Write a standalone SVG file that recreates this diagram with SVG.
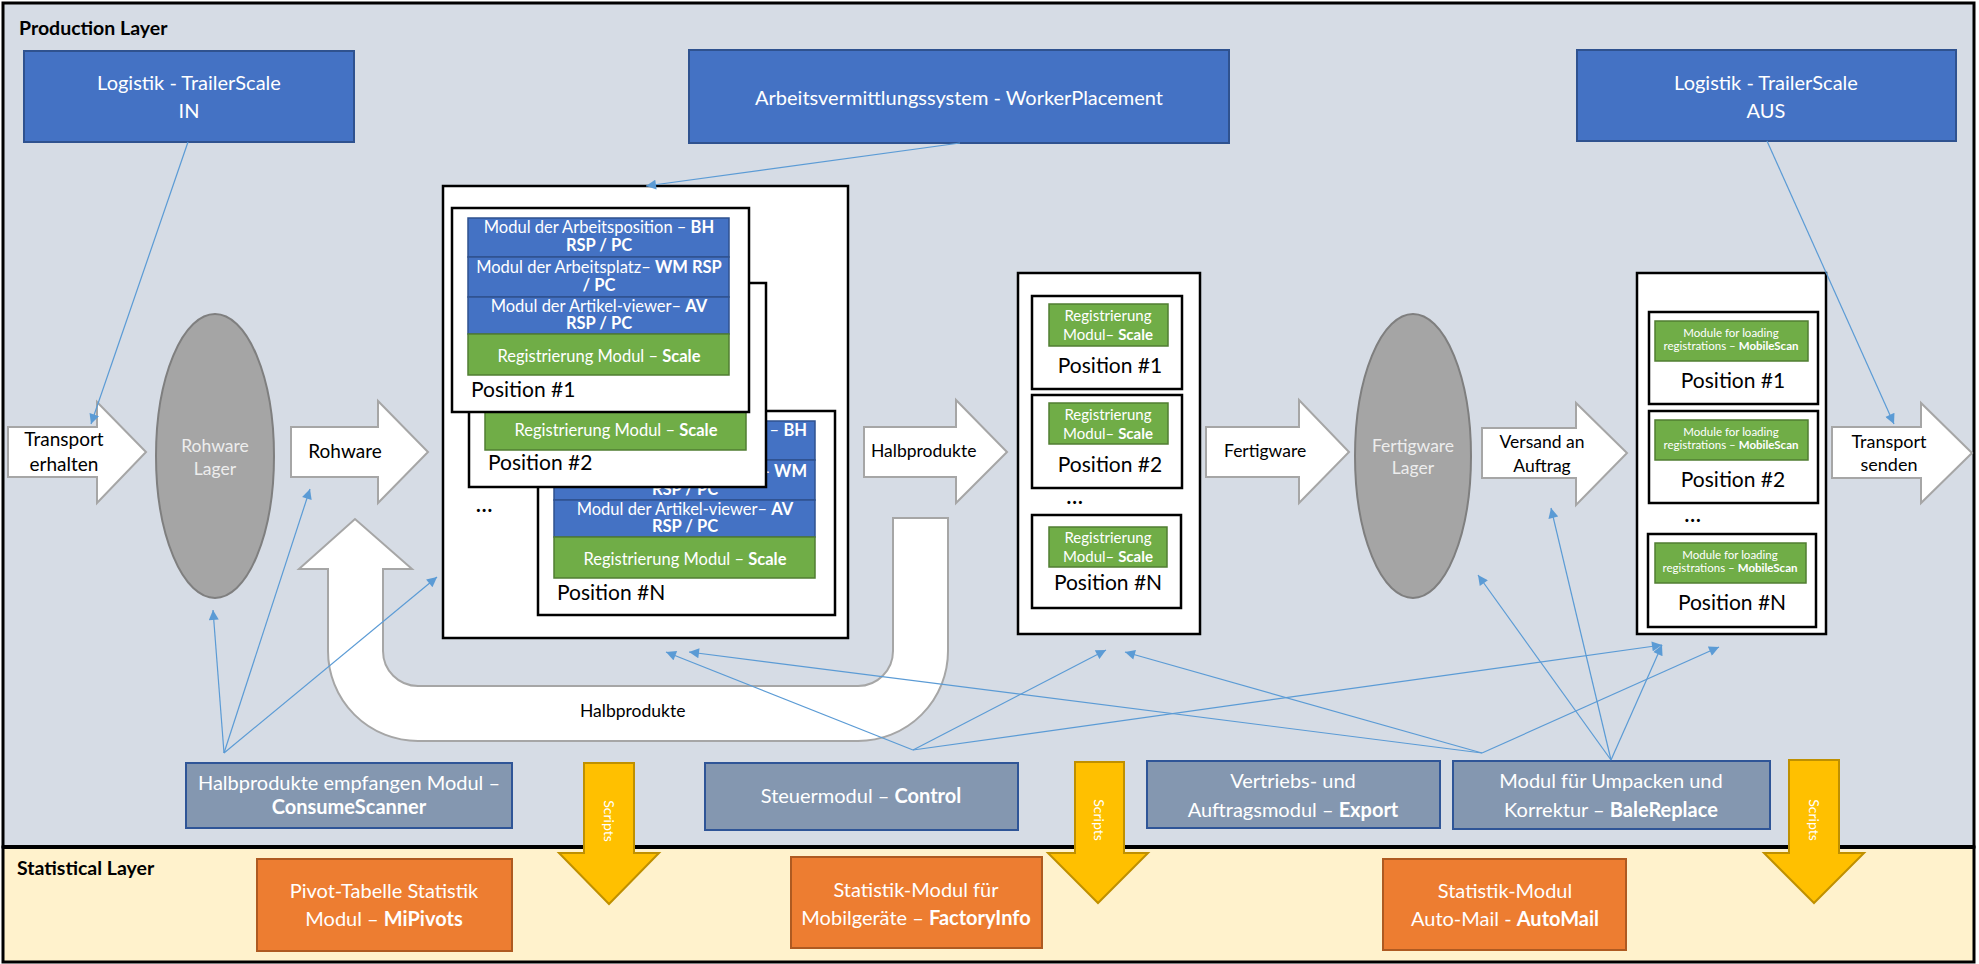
<svg xmlns="http://www.w3.org/2000/svg" width="1979" height="964" viewBox="0 0 1979 964">
<defs>
<marker id="ah" viewBox="0 0 10 10" refX="10" refY="5" markerWidth="12" markerHeight="10" markerUnits="userSpaceOnUse" orient="auto"><path d="M0,0 L10,5 L0,10 Z" fill="#5B9BD5"/></marker>
</defs>
<style>
text{font-family:Lato,'Liberation Sans',sans-serif}
.m{text-anchor:middle}
.e{text-anchor:end}
.w{fill:#fff}
.bd{font-weight:bold}
.blue{fill:#4472C4;stroke:#2F528F;stroke-width:2}
.row{fill:#4472C4;stroke:#2F528F;stroke-width:1.5}
.grn{fill:#70AD47;stroke:#507E32;stroke-width:1.5}
.box{fill:#fff;stroke:#000;stroke-width:2.5}
.flow{fill:#fff;stroke:#A6A6A6;stroke-width:2}
.mod{fill:#8497B0;stroke:#2F5597;stroke-width:2}
.org{fill:#ED7D31;stroke:#AE5A21;stroke-width:2}
.scr{fill:#FFC000;stroke:#BF9000;stroke-width:2}
.ell{fill:#A5A5A5;stroke:#7F7F7F;stroke-width:2}
.c{stroke:#5B9BD5;stroke-width:1.2;fill:none;marker-end:url(#ah)}
.rt{font-size:16.5px;fill:#fff}
.pos{font-size:21px;fill:#000}
.sg{font-size:15px;fill:#fff}
.ms{font-size:11.5px;fill:#fff}
.ft{font-size:17.5px;fill:#000}
.big{font-size:20px;fill:#fff}
</style>

<g id="layers">
<rect x="3" y="3" width="1971" height="844" fill="#D6DCE5" stroke="#000" stroke-width="3"/>
<rect x="3" y="847" width="1971" height="115" fill="#FFF2CC" stroke="#000" stroke-width="3"/>
<line x1="3" y1="847" x2="1974" y2="847" stroke="#000" stroke-width="4"/>
<text x="19" y="35" font-size="19.5" font-weight="bold" fill="#000">Production Layer</text>
<text x="17" y="875" font-size="19.5" font-weight="bold" fill="#000">Statistical Layer</text>
</g>

<g id="trailer-in">
<rect class="blue" x="24" y="51" width="330" height="91"/>
<text class="m big" x="189" y="90">Logistik - TrailerScale</text>
<text class="m big" x="189" y="118">IN</text>
</g>
<g id="worker-placement">
<rect class="blue" x="689" y="50" width="540" height="93"/>
<text class="m big" x="959" y="105">Arbeitsvermittlungssystem - WorkerPlacement</text>
</g>
<g id="trailer-aus">
<rect class="blue" x="1577" y="50" width="379" height="91"/>
<text class="m big" x="1766" y="90">Logistik - TrailerScale</text>
<text class="m big" x="1766" y="118">AUS</text>
</g>

<g id="transport-erhalten">
<path class="flow" d="M8,427 L97,427 L97,402 L146,452 L97,503 L97,477 L8,477 Z"/>
<text class="m" x="64" y="446" font-size="19">Transport</text>
<text class="m" x="64" y="471" font-size="19">erhalten</text>
</g>
<g id="rohware-lager">
<ellipse class="ell" cx="215" cy="456" rx="59" ry="142"/>
<text class="m" x="215" y="452" font-size="17.5" fill="#EDEDED">Rohware</text>
<text class="m" x="215" y="475" font-size="17.5" fill="#EDEDED">Lager</text>
</g>
<g id="rohware">
<path class="flow" d="M291,427 L378,427 L378,401 L428,452 L378,503 L378,477 L291,477 Z"/>
<text class="m" x="345" y="458" font-size="19">Rohware</text>
</g>

<g id="halbprodukte-return">
<path class="flow" stroke-width="1.8" d="M893,518 L948,518 L948,651 A90,90 0 0 1 858,741 L418,741 A90,90 0 0 1 328,651 L328,569 L299,569 L355,519 L412,569 L383,569 L383,651 A35,35 0 0 0 418,686 L858,686 A35,35 0 0 0 893,651 Z"/>
<text class="ft" x="580" y="717">Halbprodukte</text>
</g>

<g id="positions-main">
<rect class="box" x="443" y="186" width="405" height="452"/>
<g id="pos-n">
<rect class="box" x="538" y="411" width="297" height="204"/>
<rect class="row" x="554" y="421" width="261" height="39"/>
<text class="e rt" x="807" y="436">n – <tspan class="bd">BH</tspan></text>
<rect class="row" x="554" y="460" width="261" height="40"/>
<text class="e rt bd" x="807" y="477">– WM</text>
<text class="m rt bd" x="685" y="495">RSP / PC</text>
<rect class="row" x="554" y="500" width="261" height="37"/>
<text class="m rt" x="685" y="515">Modul der Artikel-viewer– <tspan class="bd">AV</tspan></text>
<text class="m rt bd" x="685" y="532">RSP / PC</text>
<rect class="grn" x="554" y="537" width="261" height="41"/>
<text class="m rt" x="685" y="565">Registrierung Modul – <tspan class="bd">Scale</tspan></text>
<text class="pos" x="557" y="600">Position #N</text>
</g>
<g id="pos-2">
<rect class="box" x="469" y="283" width="297" height="204"/>
<rect class="grn" x="485" y="411" width="261" height="39"/>
<text class="m rt" x="616" y="436">Registrierung Modul – <tspan class="bd">Scale</tspan></text>
<text class="pos" x="488" y="470">Position #2</text>
</g>
<g id="pos-1">
<rect class="box" x="452" y="208" width="297" height="204"/>
<rect class="row" x="468" y="218" width="261" height="39"/>
<text class="m rt" x="599" y="233">Modul der Arbeitsposition – <tspan class="bd">BH</tspan></text>
<text class="m rt bd" x="599" y="251">RSP / PC</text>
<rect class="row" x="468" y="257" width="261" height="40"/>
<text class="m rt" x="599" y="273">Modul der Arbeitsplatz– <tspan class="bd">WM RSP</tspan></text>
<text class="m rt bd" x="599" y="291">/ PC</text>
<rect class="row" x="468" y="297" width="261" height="37"/>
<text class="m rt" x="599" y="312">Modul der Artikel-viewer– <tspan class="bd">AV</tspan></text>
<text class="m rt bd" x="599" y="329">RSP / PC</text>
<rect class="grn" x="468" y="334" width="261" height="41"/>
<text class="m rt" x="599" y="362">Registrierung Modul – <tspan class="bd">Scale</tspan></text>
<text class="pos" x="471" y="397">Position #1</text>
</g>
<text x="476" y="512" font-size="20" font-weight="bold" letter-spacing="1">...</text>
</g>

<g id="halbprodukte">
<path class="flow" d="M864,427 L956,427 L956,400 L1007,452 L956,503 L956,477 L864,477 Z"/>
<text class="ft" x="871" y="457">Halbprodukte</text>
</g>

<g id="positions-mid">
<rect class="box" x="1018" y="273" width="182" height="361"/>
<rect class="box" x="1032" y="296" width="150" height="93"/>
<rect class="grn" x="1049" y="304" width="119" height="42"/>
<text class="m sg" x="1108" y="321">Registrierung</text>
<text class="m sg" x="1108" y="340">Modul– <tspan class="bd">Scale</tspan></text>
<text class="m pos" x="1110" y="373">Position #1</text>
<rect class="box" x="1032" y="395" width="150" height="93"/>
<rect class="grn" x="1049" y="403" width="119" height="41"/>
<text class="m sg" x="1108" y="420">Registrierung</text>
<text class="m sg" x="1108" y="439">Modul– <tspan class="bd">Scale</tspan></text>
<text class="m pos" x="1110" y="472">Position #2</text>
<text class="m" x="1075" y="504" font-size="20" font-weight="bold" letter-spacing="1">...</text>
<rect class="box" x="1032" y="515" width="149" height="93"/>
<rect class="grn" x="1049" y="527" width="118" height="40"/>
<text class="m sg" x="1108" y="543">Registrierung</text>
<text class="m sg" x="1108" y="562">Modul– <tspan class="bd">Scale</tspan></text>
<text class="m pos" x="1108" y="590">Position #N</text>
</g>

<g id="fertigware">
<path class="flow" d="M1206,427 L1299,427 L1299,400 L1349,452 L1299,503 L1299,477 L1206,477 Z"/>
<text class="ft" x="1224" y="457">Fertigware</text>
</g>
<g id="fertigware-lager">
<ellipse class="ell" cx="1413" cy="456" rx="58" ry="142"/>
<text class="m" x="1413" y="452" font-size="17.5" fill="#EDEDED">Fertigware</text>
<text class="m" x="1413" y="474" font-size="17.5" fill="#EDEDED">Lager</text>
</g>
<g id="versand">
<path class="flow" d="M1482,428 L1576,428 L1576,403 L1627,453 L1576,505 L1576,478 L1482,478 Z"/>
<text class="m ft" x="1542" y="448">Versand an</text>
<text class="m ft" x="1542" y="472">Auftrag</text>
</g>

<g id="positions-load">
<rect class="box" x="1637" y="273" width="189" height="361"/>
<rect class="box" x="1649" y="312" width="169" height="92"/>
<rect class="grn" x="1655" y="321" width="153" height="40"/>
<text class="m ms" x="1731" y="337">Module for loading</text>
<text class="m ms" x="1731" y="350">registrations – <tspan class="bd">MobileScan</tspan></text>
<text class="m pos" x="1733" y="388">Position #1</text>
<rect class="box" x="1649" y="411" width="169" height="92"/>
<rect class="grn" x="1655" y="420" width="153" height="40"/>
<text class="m ms" x="1731" y="436">Module for loading</text>
<text class="m ms" x="1731" y="449">registrations – <tspan class="bd">MobileScan</tspan></text>
<text class="m pos" x="1733" y="487">Position #2</text>
<text class="m" x="1693" y="522" font-size="20" font-weight="bold" letter-spacing="1">...</text>
<rect class="box" x="1648" y="534" width="168" height="93"/>
<rect class="grn" x="1655" y="543" width="151" height="40"/>
<text class="m ms" x="1730" y="559">Module for loading</text>
<text class="m ms" x="1730" y="572">registrations – <tspan class="bd">MobileScan</tspan></text>
<text class="m pos" x="1732" y="610">Position #N</text>
</g>

<g id="transport-senden">
<path class="flow" d="M1832,427 L1921,427 L1921,403 L1972,453 L1921,503 L1921,478 L1832,478 Z"/>
<text class="m" x="1889" y="448" font-size="18">Transport</text>
<text class="m" x="1889" y="471" font-size="18">senden</text>
</g>

<g id="consumescanner">
<rect class="mod" x="186" y="763" width="326" height="65"/>
<text class="m big" x="349" y="790">Halbprodukte empfangen Modul –</text>
<text class="m big bd" x="349" y="814">ConsumeScanner</text>
</g>
<g id="control">
<rect class="mod" x="705" y="763" width="313" height="67"/>
<text class="m big" x="861" y="803">Steuermodul – <tspan class="bd">Control</tspan></text>
</g>
<g id="export">
<rect class="mod" x="1147" y="761" width="293" height="67"/>
<text class="m big" x="1293" y="788">Vertriebs- und</text>
<text class="m big" x="1293" y="817">Auftragsmodul – <tspan class="bd">Export</tspan></text>
</g>
<g id="balereplace">
<rect class="mod" x="1453" y="761" width="317" height="68"/>
<text class="m big" x="1611" y="788">Modul für Umpacken und</text>
<text class="m big" x="1611" y="817">Korrektur – <tspan class="bd">BaleReplace</tspan></text>
</g>

<g id="scripts">
<path class="scr" d="M584,763 L634,763 L634,853 L659,853 L609,904 L559,853 L584,853 Z"/>
<text class="m" transform="translate(609,821) rotate(90)" x="0" y="5" font-size="14" fill="#fff">Scripts</text>
<path class="scr" d="M1075,762 L1124,762 L1124,853 L1148,853 L1098,903 L1048,853 L1075,853 Z"/>
<text class="m" transform="translate(1099,820) rotate(90)" x="0" y="5" font-size="14" fill="#fff">Scripts</text>
<path class="scr" d="M1789,760 L1839,760 L1839,853 L1864,853 L1814,903 L1764,853 L1789,853 Z"/>
<text class="m" transform="translate(1814,820) rotate(90)" x="0" y="5" font-size="14" fill="#fff">Scripts</text>
</g>

<g id="mipivots">
<rect class="org" x="257" y="859" width="255" height="92"/>
<text class="m big" x="384" y="898">Pivot-Tabelle Statistik</text>
<text class="m big" x="384" y="926">Modul – <tspan class="bd">MiPivots</tspan></text>
</g>
<g id="factoryinfo">
<rect class="org" x="791" y="857" width="251" height="91"/>
<text class="m big" x="916" y="897">Statistik-Modul für</text>
<text class="m big" x="916" y="925">Mobilgeräte – <tspan class="bd">FactoryInfo</tspan></text>
</g>
<g id="automail">
<rect class="org" x="1383" y="859" width="243" height="91"/>
<text class="m big" x="1505" y="898">Statistik-Modul</text>
<text class="m big" x="1505" y="926">Auto-Mail - <tspan class="bd">AutoMail</tspan></text>
</g>

<g id="connectors">
<line class="c" x1="188" y1="142" x2="91" y2="424"/>
<line class="c" x1="960" y1="143" x2="646" y2="186"/>
<line class="c" x1="1767" y1="141" x2="1894" y2="424"/>
<line class="c" x1="224" y1="753" x2="213" y2="610"/>
<line class="c" x1="224" y1="753" x2="310" y2="489"/>
<line class="c" x1="224" y1="753" x2="437" y2="577"/>
<line class="c" x1="913" y1="750" x2="666" y2="652"/>
<line class="c" x1="913" y1="750" x2="1106" y2="650"/>
<line class="c" x1="913" y1="750" x2="1662" y2="645"/>
<line class="c" x1="1482" y1="753" x2="689" y2="652"/>
<line class="c" x1="1482" y1="753" x2="1125" y2="652"/>
<line class="c" x1="1482" y1="753" x2="1719" y2="647"/>
<line class="c" x1="1611" y1="760" x2="1478" y2="575"/>
<line class="c" x1="1611" y1="760" x2="1551" y2="508"/>
<line class="c" x1="1611" y1="760" x2="1662" y2="645"/>
</g>
</svg>
